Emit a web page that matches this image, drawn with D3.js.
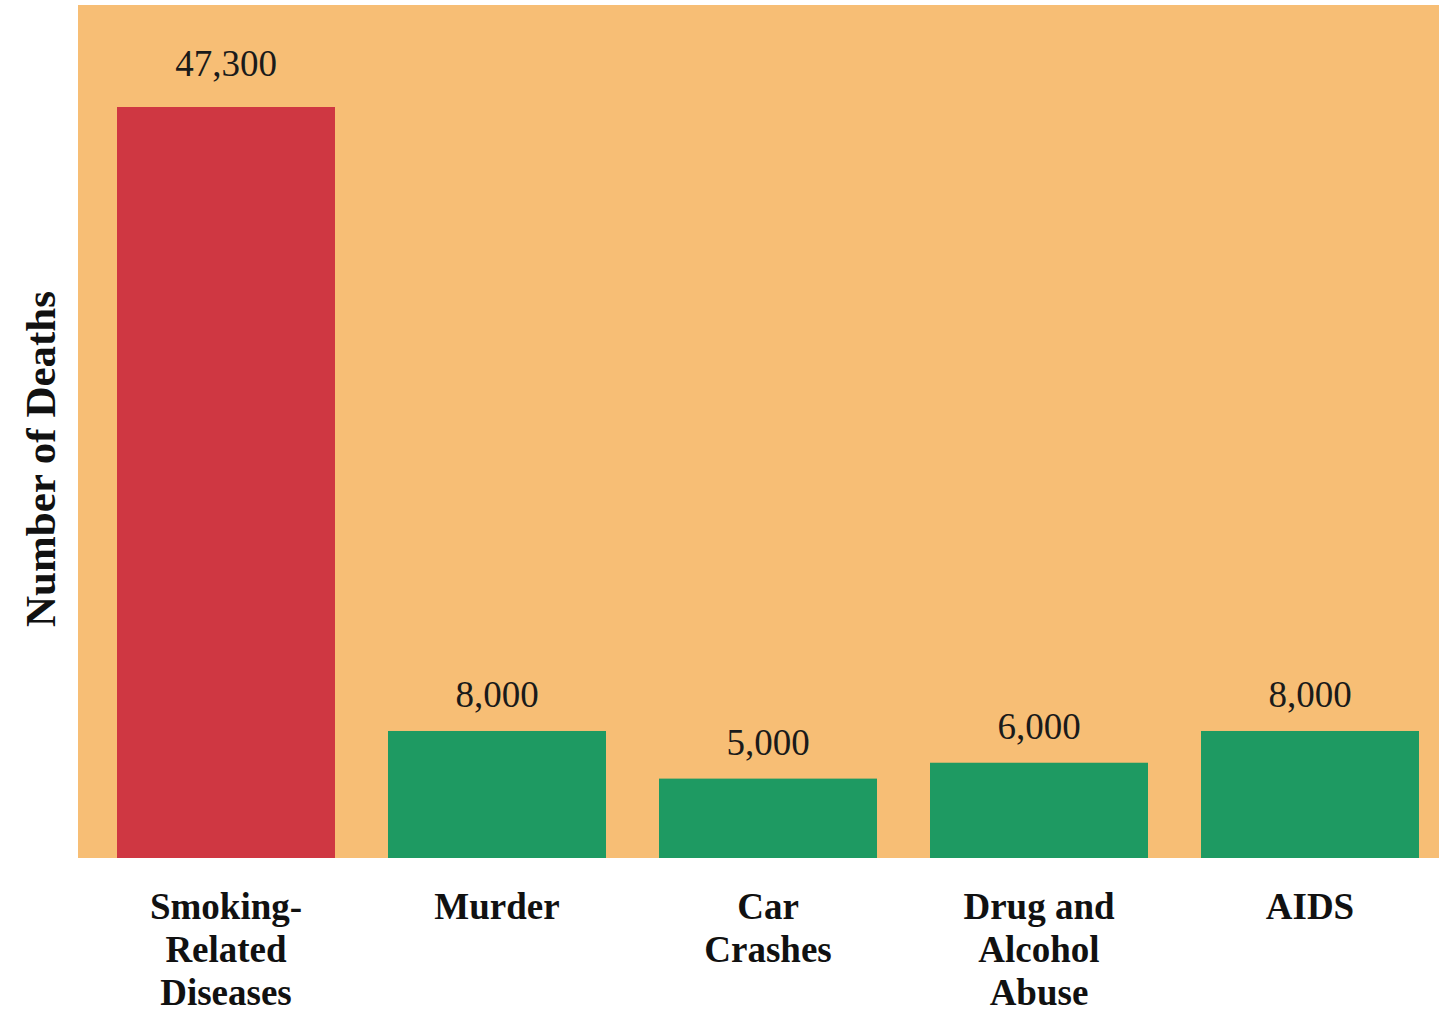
<!DOCTYPE html>
<html>
<head>
<meta charset="utf-8">
<script src="https://cdn.jsdelivr.net/npm/d3@7"></script>
<style>
  body { margin: 0; background: #fff; }
  svg { display: block; }
</style>
</head>
<body>
<svg id="chart" width="1439" height="1014"></svg>
<script>
// data
var causes = ["Smoking-Related Diseases", "Murder", "Car Crashes", "Drug and Alcohol Abuse", "AIDS"];
var labelLines = [["Smoking-", "Related", "Diseases"], ["Murder"], ["Car", "Crashes"], ["Drug and", "Alcohol", "Abuse"], ["AIDS"]];
var deaths = [47300, 8000, 5000, 6000, 8000];
var barColors = ["#cf3742", "#1e9a62", "#1e9a62", "#1e9a62", "#1e9a62"];

var svg = d3.select("#chart");
var serif = "'Liberation Serif', 'Times New Roman', serif";

var plot = {left: 78, right: 1439, top: 5, bottom: 858};

//orange panel behind the bars
svg.append("rect")
  .attr("x", plot.left).attr("y", plot.top)
  .attr("width", plot.right - plot.left)
  .attr("height", plot.bottom - plot.top)
  .attr("fill", "#f7be75");

var x = d3.scaleBand()
  .domain(causes)
  .range([90.5, 1445.5])
  .paddingInner(0.1956)
  .paddingOuter(0.0978);

var y = d3.scaleLinear()
  .domain([0, d3.max(deaths)])
  .range([plot.bottom, 107]);

var fmt = d3.format(",");

svg.selectAll("rect.bar")
  .data(causes)
  .enter()
  .append("rect")
  .attr("class", "bar")
  .attr("x", function(d) { return x(d); })
  .attr("y", function(d, i) { return y(deaths[i]); })
  .attr("width", x.bandwidth())
  .attr("height", function(d, i) { return y(0) - y(deaths[i]); })
  .attr("fill", function(d, i) { return barColors[i]; });

//value labels above bars
svg.selectAll("text.val")
  .data(causes)
  .enter()
  .append("text")
  .attr("class", "val")
  .attr("x", function(d) { return x(d) + x.bandwidth() / 2; })
  .attr("y", function(d, i) { return y(deaths[i]) - (i === 0 ? 31 : 24); })
  .attr("text-anchor", "middle")
  .attr("font-family", serif)
  .attr("font-size", 37)
  .attr("fill", "#1a1a1a")
  .text(function(d, i) { return fmt(deaths[i]); });

//category labels under the panel
var cats = svg.selectAll("text.cat")
  .data(causes)
  .enter()
  .append("text")
  .attr("class", "cat")
  .attr("text-anchor", "middle")
  .attr("font-family", serif)
  .attr("font-weight", "bold")
  .attr("font-size", 37)
  .attr("fill", "#111");

cats.each(function(d, i) {
  var t = d3.select(this);
  labelLines[i].forEach(function(line, j) {
    t.append("tspan")
      .attr("x", x(d) + x.bandwidth() / 2)
      .attr("y", 919 + j * 43)
      .text(line);
  });
});

//y axis title
svg.append("text")
  .attr("transform", "translate(55,459) rotate(-90)")
  .attr("text-anchor", "middle")
  .attr("font-family", serif)
  .attr("font-weight", "bold")
  .attr("font-size", 43)
  .attr("fill", "#111")
  .text("Number of Deaths");
</script>
</body>
</html>
